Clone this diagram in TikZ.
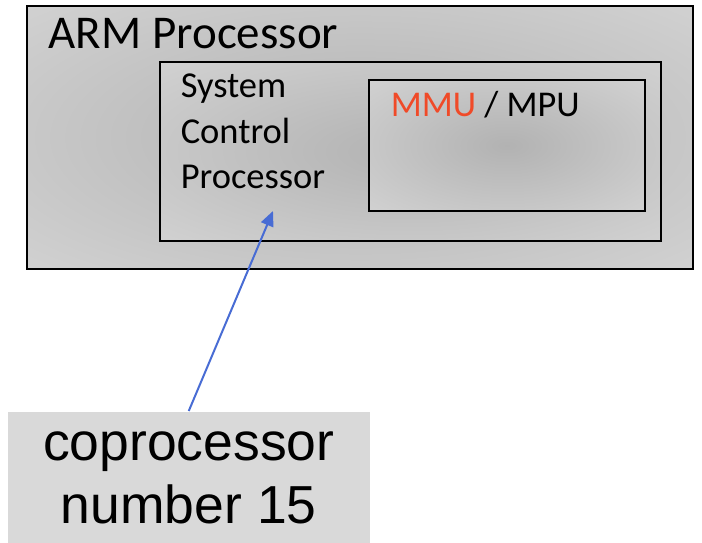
\documentclass[tikz,border=0pt]{standalone}
\usepackage{fontspec}
\usetikzlibrary{arrows.meta, shadings}
\newfontfamily\boxfont{Carlito}
\newfontfamily\labelfont{Liberation Sans}
\definecolor{arrowblue}{RGB}{72,108,212}
\definecolor{mmured}{RGB}{240,74,40}
\definecolor{labelgray}{RGB}{217,217,217}
\definecolor{glowdark}{RGB}{178,178,178}
\definecolor{glowlight}{RGB}{222,222,222}
\pgfdeclareradialshading{boxglow}{\pgfpoint{0bp}{0bp}}{%
    color(0bp)=(glowdark); color(50bp)=(glowlight); color(72bp)=(glowlight)}

\begin{document}
\begin{tikzpicture}[
            x = 1pt, y = -1pt, % pixel grid of the slide
            > = {Triangle[length=15pt, width=13pt]}, % arrow head style
            line width = 1.5pt
        ]

        \tikzstyle{block}=[
            draw = black,
            rectangle,
            inner sep = 0pt,
            outer sep = 0pt,
            anchor = north west,
            shading = boxglow
        ]
        \tikzstyle{boxtext}=[
            anchor = base west,
            inner sep = 0pt,
            font = \boxfont\fontsize{36.5}{45}\selectfont
        ]

        \useasboundingbox (0,0) rectangle (702,543);

        \node[block, minimum width=666pt, minimum height=263pt] (arm) at (27,6) {};
        \node[block, minimum width=501pt, minimum height=179pt] (scp) at (160,62) {};
        \node[block, minimum width=276pt, minimum height=131pt] (mmu) at (369,80) {};

        \node[boxtext, font=\boxfont\fontsize{47}{56}\selectfont] (armtext) at (48,49) {ARM Processor};
        \node[boxtext] (sys) at (180,98) {System};
        \node[boxtext] (ctl) at (180,143) {Control};
        \node[boxtext] (prc) at (180,188) {Processor};
        \node[boxtext, font=\boxfont\fontsize{36.3}{45}\selectfont] (mmutext) at (390,117)
            {\textcolor{mmured}{MMU} / MPU};

        \node[fill=labelgray, inner sep=0pt, minimum width=362pt, minimum height=132pt,
              anchor=north west, align=center,
              font=\labelfont\fontsize{53.5}{63}\selectfont] (cp) at (7,411)
            {coprocessor\\number 15};

        \coordinate (target) at (273,211);
        \draw[->, arrowblue, line width=2pt] (cp.north) -- (target);
    \end{tikzpicture}
\end{document}
